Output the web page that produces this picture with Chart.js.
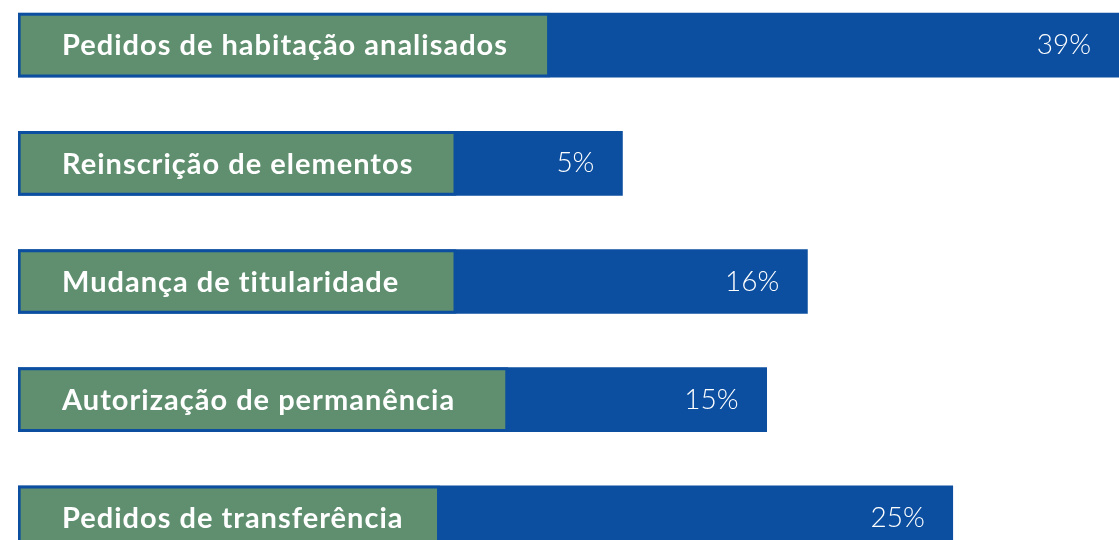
<!DOCTYPE html>
<html lang="pt">
<head>
<meta charset="utf-8">
<title>Pedidos</title>
<script src="https://cdn.jsdelivr.net/npm/chart.js@4/dist/chart.umd.min.js"></script>
<style>
  html, body { margin: 0; padding: 0; background: #fff; overflow: hidden; }
  #wrap { position: absolute; left: 0; top: -14px; width: 1119px; height: 591px; }
</style>
</head>
<body>
<div id="wrap"><canvas id="myChart"></canvas></div>
<script>
// categorias e valores
const categories = [
  "Pedidos de habitação analisados",
  "Reinscrição de elementos",
  "Mudança de titularidade",
  "Autorização de permanência",
  "Pedidos de transferência",
];
const shares = [39, 5, 16, 15, 25]; // % mostrada em cada barra
// comprimento das barras (em % da faixa), estimado da imagem
const barLength = [100, 54.9, 71.7, 68.0, 84.9];
const labelBoxLength = [48.3, 39.8, 39.8, 44.5, 38.3];

const BLUE = "#0c4fa0";
const GREEN = "#5f8f6f";

const textPlugin = {
  id: "barText",
  afterDatasetsDraw(chart) {
    const { ctx } = chart;
    const boxes = chart.getDatasetMeta(0).data;
    const bars = chart.getDatasetMeta(1).data;
    ctx.save();
    ctx.fillStyle = "#ffffff";
    ctx.textBaseline = "middle";
    boxes.forEach((el, i) => {
      ctx.font = "bold 29px Lato";
      ctx.letterSpacing = "1px";
      ctx.textAlign = "left";
      ctx.fillText(categories[i], el.base + 44, el.y + 1);
    });
    bars.forEach((el, i) => {
      ctx.font = "300 28px Lato";
      ctx.letterSpacing = "0px";
      ctx.textAlign = "right";
      ctx.fillText(`${shares[i]}%`, el.x - 28, el.y);
    });
    ctx.restore();
  },
};

const drawChart = () => {
  const ctx = document.querySelector("canvas#myChart").getContext("2d");
  new Chart(ctx, {
    type: "bar",
    data: {
      labels: categories,
      datasets: [
        {
          label: "rótulo",
          data: labelBoxLength,
          backgroundColor: GREEN,
          borderColor: BLUE,
          borderWidth: 3,
          borderSkipped: false,
          grouped: false,
          barThickness: 64,
          order: 0,
        },
        {
          label: "percentagem",
          data: barLength,
          backgroundColor: BLUE,
          borderWidth: 0,
          grouped: false,
          barThickness: 64,
          order: 1,
        },
      ],
    },
    options: {
      indexAxis: "y",
      responsive: true,
      maintainAspectRatio: false,
      animation: false,
      layout: { padding: { left: 18, right: 0, top: 0, bottom: 0 } },
      plugins: { legend: { display: false }, tooltip: { enabled: false } },
      scales: {
        x: { display: false, min: 0, max: 100 },
        y: { display: false, offset: true },
      },
    },
    plugins: [textPlugin],
  });
};

Promise.all([
  document.fonts.load("bold 29px Lato"),
  document.fonts.load("300 28px Lato"),
]).then(drawChart, drawChart);
</script>
</body>
</html>
